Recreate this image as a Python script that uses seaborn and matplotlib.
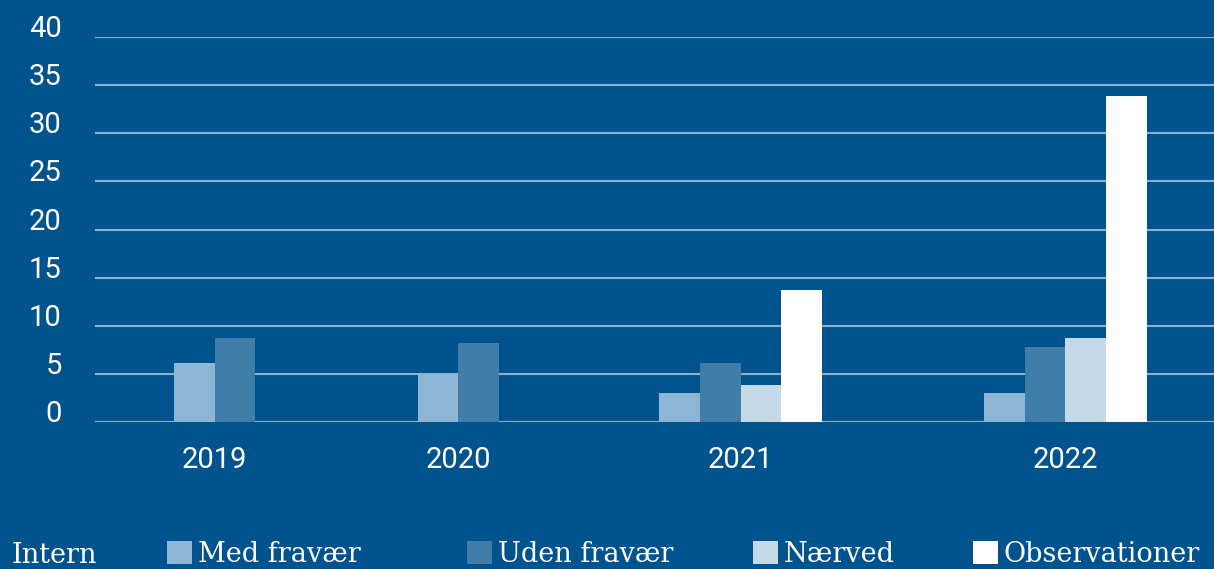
import numpy as np
import pandas as pd
import seaborn as sns
import matplotlib.pyplot as plt
from matplotlib.patches import Patch

# data
years = ["2019", "2020", "2021", "2022"]
series = ["Med fravær", "Uden fravær", "Nærved", "Observationer"]
med_fravaer = [6.1, 5.0, 3.0, 3.0]
uden_fravaer = [8.7, 8.2, 6.1, 7.8]
naerved = [np.nan, np.nan, 3.8, 8.7]
observationer = [np.nan, np.nan, 13.7, 33.9]

# layout: where each year's group sits on the x axis (in bar widths)
group_centers = [2.95, 8.95, 15.9, 23.9]

bg = "#00538c"
grid_color = "#8fb1d1"
colors = ["#8cb6d3", "#407ea9", "#c4dae8", "#ffffff"]

# long table, bars centred within each year (missing bars are skipped)
values = dict(zip(series, [med_fravaer, uden_fravaer, naerved, observationer]))
rows = []
for i, year in enumerate(years):
    present = [s for s in series if not np.isnan(values[s][i])]
    for j, s in enumerate(present):
        pos = group_centers[i] + j - (len(present) - 1) / 2
        rows.append({"pos": round(pos, 3), "series": s, "value": values[s][i]})
df = pd.DataFrame(rows)

sns.set_style("white")
plt.rcParams["font.family"] = ["Roboto", "DejaVu Sans"]

fig = plt.figure(figsize=(12.14, 5.69), dpi=100)
fig.patch.set_facecolor(bg)
ax = fig.add_axes([95 / 1214, 147 / 569, 1 - 95 / 1214, 385 / 569])
ax.set_facecolor(bg)

sns.barplot(data=df, x="pos", y="value", hue="series", hue_order=series,
            palette=colors, native_scale=True, dodge=False, width=1.0,
            saturation=1, errorbar=None, linewidth=0, legend=False, ax=ax)

ax.set_xlim(0, 1119 / 40.6)
ax.set_ylim(0, 40)
ax.set_yticks(range(0, 41, 5))
ax.set_xticks(group_centers)
ax.set_xticklabels(years)
ax.set_xlabel("")
ax.set_ylabel("")
ax.yaxis.grid(True, color=grid_color, linewidth=1.5)
ax.xaxis.grid(False)
ax.set_axisbelow(True)
for sp in ax.spines.values():
    sp.set_visible(False)
ax.tick_params(axis="y", length=0, pad=24, labelsize=21, labelcolor="white")
ax.tick_params(axis="x", length=0, pad=17, labelsize=21, labelcolor="white")
for lbl in ax.get_yticklabels():
    lbl.set_va("baseline")

# legend along the bottom edge
serif = {"family": "DejaVu Serif", "size": 19.5}
fig.text(12 / 1214, 1 - 563 / 569, "Intern", color="white", va="baseline",
         fontdict=serif)
legend_x = [167, 467, 753, 973]
for s, c, x in zip(series, colors, legend_x):
    leg = fig.legend([Patch(facecolor=c, edgecolor="none")], [s],
                     loc="center left", bbox_to_anchor=(x / 1214, 1 - 554 / 569),
                     frameon=False, prop=serif, handlelength=0.92,
                     handleheight=0.92, handletextpad=0.22,
                     borderpad=0, borderaxespad=0)
    for t in leg.get_texts():
        t.set_color("white")

fig.savefig("out.png", dpi=100, facecolor=bg)
